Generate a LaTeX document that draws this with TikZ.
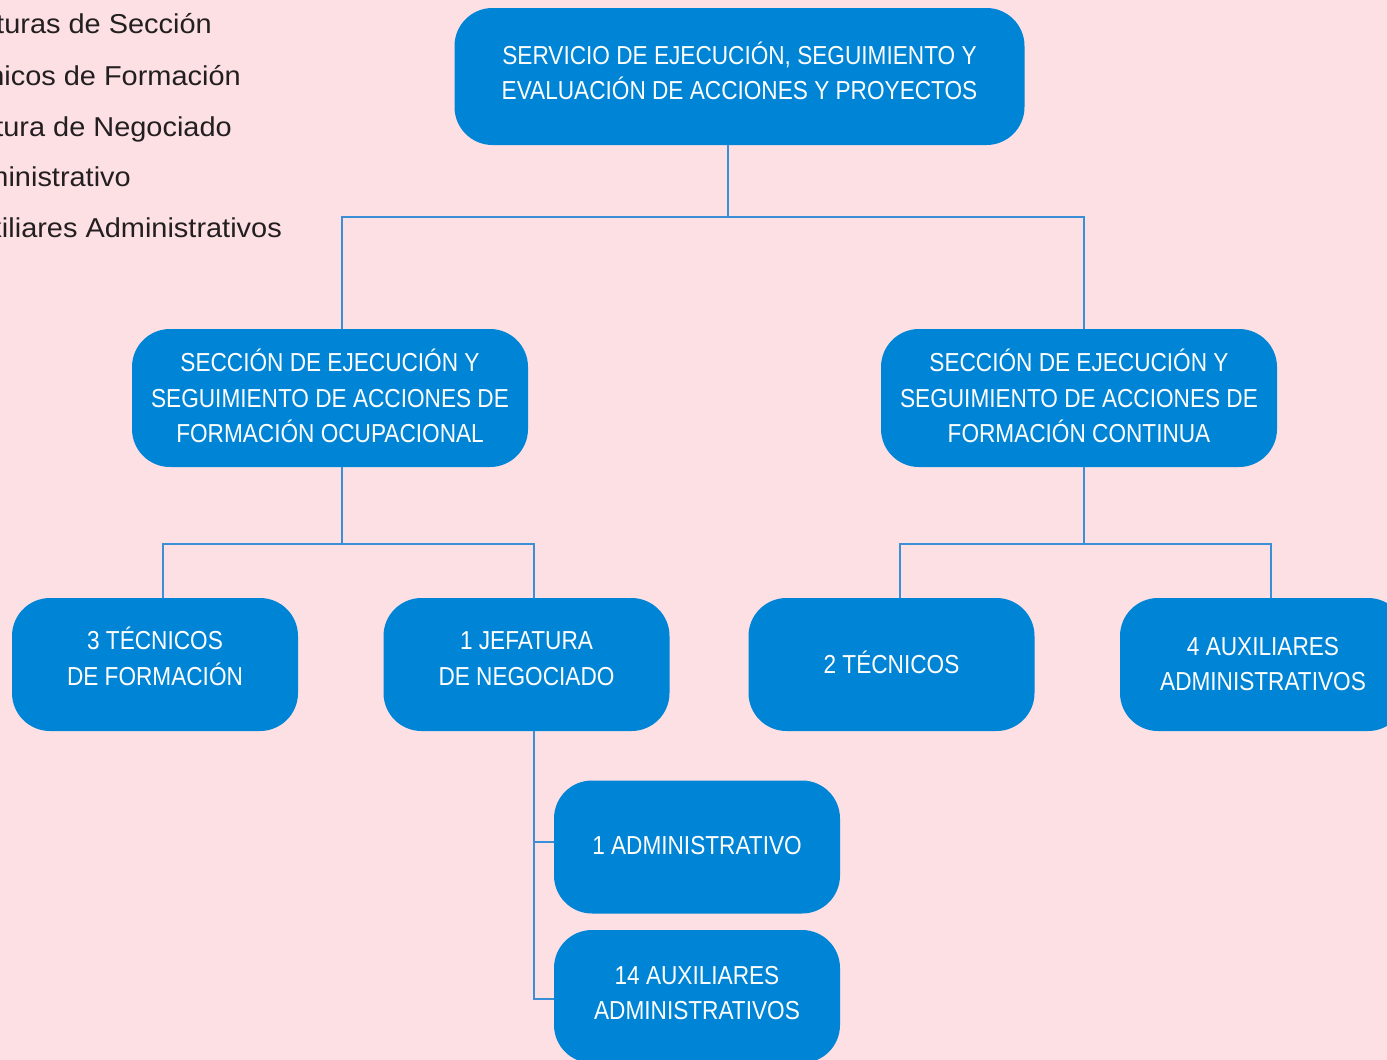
\documentclass[tikz,border=0pt]{standalone}
\usepackage{fontspec}
\setmainfont{Liberation Sans}
\newfontfamily\condfont[FakeStretch=0.87]{Liberation Sans}
\newfontfamily\legfont[FakeStretch=1.06]{Liberation Sans}
\definecolor{bgpink}{HTML}{FDE0E4}
\definecolor{boxblue}{HTML}{0085D6}
\definecolor{lineblue}{HTML}{3A8FD6}
\definecolor{txtdark}{HTML}{231F20}
\begin{document}
\begin{tikzpicture}[x=1pt,y=-1pt,
  box/.style={fill=boxblue, draw=none, rounded corners=38pt, inner sep=0pt,
    text=white, align=center, text depth=6pt, font=\condfont\fontsize{26}{35.5}\selectfont},
  raised/.style={text depth=#1},
  conn/.style={draw=lineblue, line width=1.6pt},
  legend/.style={anchor=base east, text=txtdark, inner sep=0pt, font=\legfont\fontsize{27.3}{30}\selectfont}]
\fill[bgpink] (0,0) rectangle (1387,1060);
\useasboundingbox (0,0) rectangle (1387,1060);
\clip (0,0) rectangle (1387,1060);
% legend (cut at left edge)
\node[legend] (l1) at (212,34) {Jefaturas de Sección};
\node[legend] (l2) at (241,85) {Técnicos de Formación};
\node[legend] (l3) at (232,136) {Jefatura de Negociado};
\node[legend] (l4) at (131,186) {Administrativo};
\node[legend] (l5) at (282,237) {Auxiliares Administrativos};
% boxes
\node[box, raised=12pt, minimum width=570pt, minimum height=137pt] (top) at (739.5,76.5)
  {SERVICIO DE EJECUCIÓN, SEGUIMIENTO Y\\EVALUACIÓN DE ACCIONES Y PROYECTOS};
\node[box, raised=4pt, minimum width=396pt, minimum height=138pt] (secL) at (330,398)
  {SECCIÓN DE EJECUCIÓN Y\\SEGUIMIENTO DE ACCIONES DE\\FORMACIÓN OCUPACIONAL};
\node[box, raised=4pt, minimum width=396pt, minimum height=138pt] (secR) at (1079,398)
  {SECCIÓN DE EJECUCIÓN Y\\SEGUIMIENTO DE ACCIONES DE\\FORMACIÓN CONTINUA};
\node[box, raised=17pt, minimum width=286pt, minimum height=133pt] (tec3) at (155,664.5)
  {3 TÉCNICOS\\DE FORMACIÓN};
\node[box, raised=12pt, minimum width=286pt, minimum height=133pt] (jef) at (526.5,664.5)
  {1 JEFATURA\\DE NEGOCIADO};
\node[box, raised=5pt, minimum width=286pt, minimum height=133pt] (tec2) at (891.5,664.5)
  {2 TÉCNICOS};
\node[box, raised=1pt, minimum width=286pt, minimum height=133pt] (aux4) at (1263,664.5)
  {4 AUXILIARES\\ADMINISTRATIVOS};
\node[box, raised=3pt, minimum width=286pt, minimum height=133pt] (adm1) at (697,847)
  {1 ADMINISTRATIVO};
\node[box, raised=7pt, minimum width=286pt, minimum height=133pt] (aux14) at (697,996.5)
  {14 AUXILIARES\\ADMINISTRATIVOS};
% connectors
\coordinate (b1) at (728,217);
\coordinate (b2) at (342,544);
\coordinate (b3) at (1084,544);
\coordinate (b4) at (534,842);
\coordinate (b5) at (534,999);
\draw[conn] (top.south -| b1) -- (b1);
\draw[conn] (secL.north -| b2) |- (b1) -| (secR.north -| b3);
\draw[conn] (secL.south -| b2) -- (b2);
\draw[conn] (tec3.north -| 163,0) |- (b2) -| (jef.north -| b4);
\draw[conn] (secR.south -| b3) -- (b3);
\draw[conn] (tec2.north -| 900,0) |- (b3) -| (aux4.north -| 1271,0);
\draw[conn] (jef.south -| b4) -- (b5) -- (aux14.west |- b5);
\draw[conn] (b4) -- (adm1.west |- b4);
\end{tikzpicture}
\end{document}
